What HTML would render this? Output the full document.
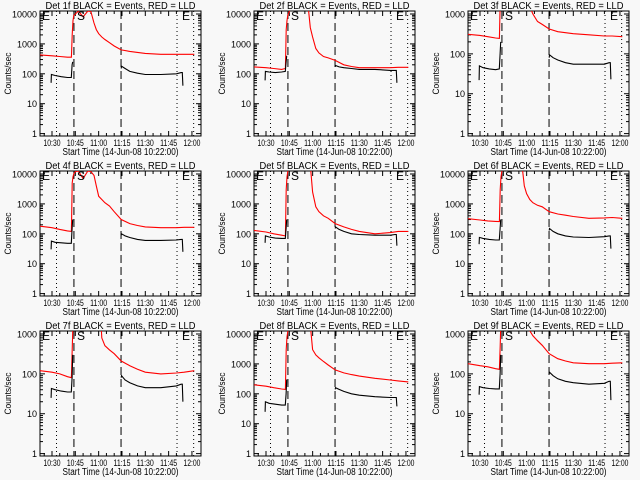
<!DOCTYPE html>
<html><head><meta charset="utf-8"><style>
html,body{margin:0;padding:0;background:#f8f8f8;}
svg{display:block;font-family:"Liberation Sans",sans-serif;}
</style></head><body>
<svg id="c" width="640" height="480" viewBox="0 0 640 480"></svg>
<script>
// time grids (minutes after 10:30)
const redTimes = [-7.7,0,5,10,12.5,13,13.5,14,15,17,20,23,25,27,28.5,30,32,34,37,40,44.5,50,55,60,70,80,85,91.5];
const preTimes = [-0.6,-0.4,2,6,10,12.4,12.9,13.3];
const postTimes = [44.5,44.7,47,50,55,60,70,80,83,83.8,84.2];
const detNames = ["1f","2f","3f","4f","5f","6f","7f","8f","9f"];
const yTop = [10000,10000,1000,10000,10000,10000,1000,10000,1000];
const red1 = [430,400,380,360,360,2000,6000,9000,10000,12500,8000,12500,12000,5000,3000,2200,1700,1400,1100,850,630,560,520,480,450,450,450,450];
const red2 = [170,160,150,140,150,3000,6000,9000,12000,20000,20000,20000,20000,20000,3500,1700,700,500,380,340,280,200,175,160,160,160,165,165];
const red3 = [310,290,270,250,245,2000,5000,20000,20000,20000,20000,20000,20000,20000,20000,20000,1500,1000,650,550,420,360,340,320,300,280,280,270];
const red4 = [180,160,140,125,120,5000,8000,10000,12000,12500,7000,12500,12000,9000,4000,1800,1400,1100,850,550,300,220,190,170,160,160,165,165];
const red5 = [130,115,100,90,85,3000,8000,12000,20000,20000,20000,20000,20000,20000,20000,2500,800,550,400,330,220,170,140,120,100,110,120,120];
const red6 = [320,290,270,260,255,3000,8000,12000,20000,20000,20000,20000,20000,20000,4000,2200,1400,1100,900,800,550,460,420,380,330,340,350,330];
const red7 = [120,110,100,85,80,400,2000,20000,20000,20000,20000,20000,20000,20000,20000,20000,800,510,400,320,210,160,130,110,100,105,110,120];
const red8 = [200,180,160,145,140,3000,8000,12000,20000,20000,20000,20000,20000,20000,20000,3000,2000,1600,1200,920,630,500,440,390,330,290,270,250];
const red9 = [180,160,150,135,130,500,3000,20000,20000,20000,20000,20000,20000,20000,20000,20000,1200,900,680,520,320,240,210,190,180,180,185,190];
const pre1 = [50,95,88,80,75,75,200,250];
const pre2 = [60,120,115,110,115,120,250,400];
const pre3 = [22,50,45,42,40,42,100,200];
const pre4 = [30,57,52,50,48,48,150,300];
const pre5 = [50,85,78,72,70,70,150,300];
const pre6 = [45,76,70,65,62,62,150,300];
const pre7 = [25,43,40,37,35,35,80,300];
const pre8 = [25,54,48,45,42,42,100,300];
const pre9 = [30,48,45,43,42,42,100,300];
const post1 = [150,180,150,120,105,95,95,100,110,110,40];
const post2 = [170,190,170,160,150,140,140,130,130,130,50];
const post3 = [80,95,80,70,60,55,55,55,60,60,23];
const post4 = [90,100,85,75,65,60,60,62,65,65,25];
const post5 = [150,170,140,120,100,95,90,90,95,95,40];
const post6 = [130,150,120,100,85,78,75,80,85,85,32];
const post7 = [80,90,70,60,50,45,45,50,55,55,20];
const post8 = [140,160,140,120,100,90,80,75,75,75,38];
const post9 = [100,110,90,75,65,60,55,58,65,65,22];
const reds = [red1,red2,red3,red4,red5,red6,red7,red8,red9];
const pres = [pre1,pre2,pre3,pre4,pre5,pre6,pre7,pre8,pre9];
const posts = [post1,post2,post3,post4,post5,post6,post7,post8,post9];
const xTickLabels = ["10:30","10:45","11:00","11:15","11:30","11:45","12:00"];
const xTickTimes = [0,15,30,45,60,75,90];
const dottedTimes = [2.9,80.4,91.1];
const dashedTimes = [14.1,44.4];

const NS="http://www.w3.org/2000/svg";
const svg=document.getElementById('c');
function mk(tag,attrs,parent){const e=document.createElementNS(NS,tag);for(const k in attrs)e.setAttribute(k,attrs[k]);(parent||svg).appendChild(e);return e;}

for(let p=0;p<9;p++){
  const col=p%3,row=Math.floor(p/3);
  const L=[40,254,468][col],T=[11,171,331][row],W=161,H=125;
  const top=yTop[p],dec=Math.round(Math.log10(top));
  const pxDec=119.6/dec;
  const xs=t=>L+12+t*1.555;
  const ys=v=>T+3+(dec-Math.log10(v))*pxDec;
  const g=mk('g',{});
  
  
  const cp=mk('clipPath',{id:'cp'+p},g);
  mk('rect',{x:L,y:T,width:W,height:H},cp);
  const title=mk('text',{x:L+W/2,y:T-2,'text-anchor':'middle','font-size':'10.5',textLength:150,lengthAdjust:'spacingAndGlyphs'},g);
  title.textContent='Det '+detNames[p]+' BLACK = Events, RED = LLD';
  
  
  const yl=mk('text',{x:0,y:0,'text-anchor':'middle','font-size':'9',textLength:42,lengthAdjust:'spacingAndGlyphs',transform:`translate(${L-29},${T+H/2}) rotate(-90)`},g);
  yl.textContent='Counts/sec';
  
  
  const xl=mk('text',{x:L+W/2,y:T+H+19,'text-anchor':'middle','font-size':'10',textLength:116,lengthAdjust:'spacingAndGlyphs'},g);
  xl.textContent='Start Time (14-Jun-08 10:22:00)';
  
  
  const box=mk('rect',{x:L,y:T,width:W,height:H,fill:'none',stroke:'#000','stroke-width':1},g);
  
  
  for(let d=0;d<=dec;d++){
    const v=Math.pow(10,d),y=ys(v);
    mk('line',{x1:L,x2:L+5,y1:y,y2:y,stroke:'#000'},g);
    mk('line',{x1:L+W-5,x2:L+W,y1:y,y2:y,stroke:'#000'},g);
    const tl=mk('text',{x:L-3,y:y+3.5,'text-anchor':'end','font-size':'9'},g);
    tl.textContent=String(v);
    
    
    if(d<dec)for(let m=2;m<10;m++){const ym=ys(v*m);
      mk('line',{x1:L,x2:L+3,y1:ym,y2:ym,stroke:'#000'},g);
      mk('line',{x1:L+W-3,x2:L+W,y1:ym,y2:ym,stroke:'#000'},g);}
  }
  for(let t=-5;t<=90;t+=5){const x=xs(t);const len=(t%15===0)?5:3;
    mk('line',{x1:x,x2:x,y1:T+H,y2:T+H-len,stroke:'#000'},g);
    mk('line',{x1:x,x2:x,y1:T,y2:T+len,stroke:'#000'},g);}
  xTickTimes.forEach((t,i)=>{const tl=mk('text',{x:xs(t),y:T+H+10,'text-anchor':'middle','font-size':'9',textLength:17,lengthAdjust:'spacingAndGlyphs'},g);
    tl.textContent=xTickLabels[i];
    
    });
  const inner=mk('g',{'clip-path':`url(#cp${p})`},g);
  dottedTimes.forEach(t=>{const l=mk('line',{x1:xs(t),x2:xs(t),y1:T,y2:T+H,stroke:'#000','stroke-dasharray':'1,3'},inner);
    
    });
  dashedTimes.forEach(t=>{const l=mk('line',{x1:xs(t),x2:xs(t),y1:T,y2:T+H,stroke:'#000','stroke-dasharray':'8,4'},inner);
    
    });
  const rl=mk('polyline',{points:redTimes.map((t,i)=>xs(t).toFixed(1)+','+ys(reds[p][i]).toFixed(1)).join(' '),fill:'none',stroke:'#ff0000','stroke-width':1.1},inner);
  
  
  const b1=mk('polyline',{points:preTimes.map((t,i)=>xs(t).toFixed(1)+','+ys(pres[p][i]).toFixed(1)).join(' '),fill:'none',stroke:'#000','stroke-width':1.1},inner);
  
  
  const b2=mk('polyline',{points:postTimes.map((t,i)=>xs(t).toFixed(1)+','+ys(posts[p][i]).toFixed(1)).join(' '),fill:'none',stroke:'#000','stroke-width':1.1},inner);
  
  
  [['E',L+2],['S',L+37],['E',L+142]].forEach(([c,x])=>{const tx=mk('text',{x:x,y:T+9,'font-size':'12'},g);
    tx.textContent=c;
    
    });
}
</script>
</body></html>
